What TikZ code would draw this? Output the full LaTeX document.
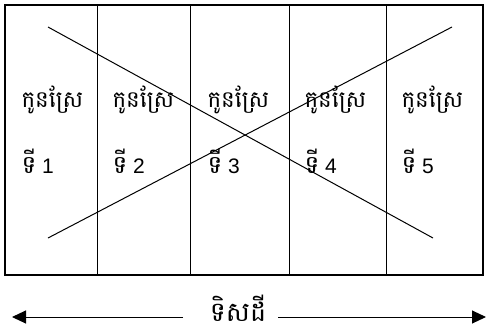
\documentclass[tikz,border=0pt]{standalone}
\usepackage{fontspec}
\setmainfont{Liberation Sans}
\newfontfamily\khmer[Script=Khmer]{Battambang}
\usetikzlibrary{arrows.meta}

\begin{document}
\begin{tikzpicture}[x=1pt,y=-1pt,line width=1pt,
  plotname/.style={font=\khmer\fontsize{23}{26}\selectfont,anchor=base west,inner sep=0pt},
  plotnum/.style={font=\fontsize{21}{24}\selectfont,anchor=base west,inner sep=0pt},
  dirarrow/.style={-{Triangle[length=14pt,width=13pt]}}]
\useasboundingbox (0,0) rectangle (487,330);
% field and its plots
\draw[line width=1.3pt] (5,5) rectangle (483,275);
\foreach \x in {97,190,289,386} \draw (\x,5) -- (\x,275);
% the crossing lines
\coordinate (tl) at (48,27); \coordinate (br) at (433,238);
\coordinate (bl) at (48,238); \coordinate (tr) at (452,27);
\draw (tl) -- (br);
\draw (bl) -- (tr);
% labels of the plots
\foreach \n/\x in {1/21,2/112,3/207,4/304,5/401} {
  \node[plotname] (p\n) at (\x,107) {កូនស្រែ};
  \node[plotnum] (n\n) at (\x,173) {{\khmer\fontsize{25}{26}\selectfont ទី} \n};
}
% direction of the land
\node[font=\khmer\fontsize{27}{28}\selectfont,anchor=base,inner sep=0pt,text depth=0pt] (dir) at (238,321) {ទិសដី};
\coordinate (dl) at (12,317); \coordinate (dl0) at (183,317);
\coordinate (dr) at (486,317); \coordinate (dr0) at (278,317);
\draw[dirarrow] (dl0) -- (dl);
\draw[dirarrow] (dr0) -- (dr);
\end{tikzpicture}
\end{document}
